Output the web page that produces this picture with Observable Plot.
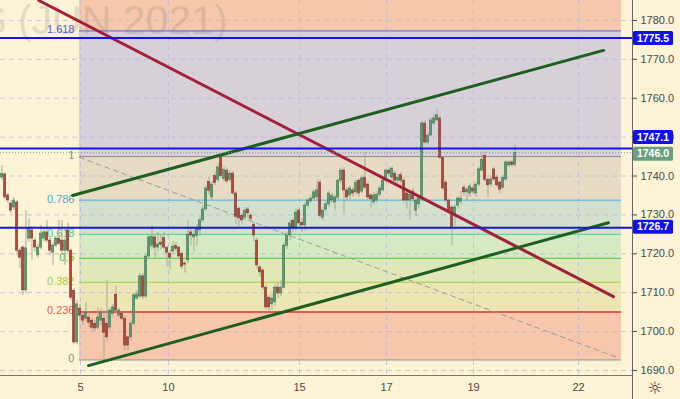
<!DOCTYPE html>
<html><head><meta charset="utf-8">
<script src="https://cdn.jsdelivr.net/npm/d3@7"></script>
<script src="https://cdn.jsdelivr.net/npm/@observablehq/plot@0.6"></script>
<style>
html,body{margin:0;padding:0;background:#fdf3d7;overflow:hidden;}
#chart svg{display:block;}
</style></head><body><div id="chart"></div>
<script>
// candles: [open, high, low, close]
const candleRows = [
[1739.6,1742.7,1738.8,1740.6],[1740.4,1740.9,1734.0,1734.5],[1735.0,1735.5,1732.9,1733.7],[1732.9,1733.7,1730.4,1731.1],
[1731.9,1734.5,1731.1,1733.7],[1733.2,1733.7,1719.5,1720.8],[1720.8,1721.4,1716.2,1719.0],[1721.6,1722.1,1709.3,1710.6],
[1710.6,1731.0,1709.8,1721.4],[1723.9,1729.0,1723.0,1726.5],[1726.0,1727.0,1718.3,1723.9],[1723.4,1724.0,1720.5,1721.6],
[1719.6,1722.5,1718.8,1721.6],[1721.6,1727.3,1721.0,1725.2],[1723.9,1726.5,1723.0,1725.5],[1725.5,1728.6,1722.8,1723.4],
[1723.4,1724.0,1719.5,1720.8],[1720.3,1722.8,1717.0,1722.1],[1722.1,1724.6,1721.6,1723.9],[1723.9,1728.6,1722.0,1722.6],
[1723.4,1728.6,1719.6,1720.8],[1720.8,1724.0,1717.0,1723.4],[1726.0,1727.9,1720.3,1720.8],[1720.8,1721.3,1708.0,1708.7],
[1710.5,1711.0,1696.6,1697.2],[1697.2,1708.0,1696.6,1707.0],[1705.9,1707.0,1703.0,1704.1],[1704.1,1704.6,1701.5,1702.8],
[1703.3,1707.5,1702.5,1704.9],[1703.6,1704.5,1701.0,1702.3],[1702.8,1703.3,1700.0,1701.0],[1702.0,1702.8,1700.0,1700.8],
[1701.0,1706.2,1700.5,1703.6],[1702.8,1705.9,1701.5,1704.9],[1703.3,1705.4,1692.8,1699.7],[1702.0,1713.0,1697.5,1698.5],
[1701.0,1706.0,1700.3,1705.4],[1704.6,1706.9,1703.8,1706.2],[1709.5,1711.6,1705.0,1705.4],[1704.1,1706.0,1703.5,1705.4],
[1704.6,1705.0,1702.8,1703.3],[1703.3,1704.0,1695.1,1696.4],[1698.5,1699.0,1695.0,1696.4],[1698.5,1702.8,1697.5,1702.0],
[1702.0,1710.0,1701.5,1709.3],[1708.5,1710.5,1708.0,1709.5],[1709.0,1715.0,1708.5,1714.2],[1714.2,1715.0,1708.2,1709.0],
[1709.0,1720.0,1708.5,1719.3],[1719.3,1725.0,1718.5,1724.2],[1722.0,1727.2,1721.0,1724.4],[1724.2,1725.0,1719.0,1721.6],
[1721.6,1725.5,1720.5,1722.4],[1722.8,1725.0,1721.0,1722.3],[1724.0,1725.5,1721.0,1721.6],[1721.5,1722.0,1716.5,1720.3],
[1720.0,1720.8,1716.0,1719.0],[1720.6,1723.0,1720.0,1721.8],[1722.0,1722.9,1720.5,1721.3],[1721.6,1722.0,1718.5,1719.3],
[1720.0,1720.5,1716.0,1716.7],[1717.5,1718.0,1715.0,1717.2],[1718.3,1728.6,1717.5,1724.9],[1725.5,1727.0,1722.0,1724.7],
[1724.2,1726.0,1720.5,1724.9],[1724.6,1727.5,1722.0,1726.5],[1726.0,1729.5,1724.5,1728.6],[1728.6,1732.4,1728.0,1731.4],
[1731.4,1737.6,1731.0,1736.8],[1738.5,1739.5,1735.0,1736.2],[1734.5,1738.5,1733.5,1737.8],[1740.0,1741.0,1737.5,1738.2],
[1739.0,1743.0,1738.5,1742.2],[1744.7,1745.0,1739.5,1740.0],[1739.2,1742.5,1738.5,1741.5],[1741.3,1742.0,1738.0,1738.6],
[1739.0,1741.5,1738.5,1740.6],[1740.6,1741.2,1735.0,1735.5],[1735.5,1736.0,1727.5,1729.5],[1731.6,1732.0,1727.0,1729.1],
[1729.8,1730.5,1727.5,1728.6],[1729.3,1731.9,1728.5,1731.1],[1731.4,1732.0,1729.0,1730.4],[1729.8,1730.3,1728.0,1729.0],
[1727.5,1728.0,1723.0,1724.7],[1723.4,1724.0,1716.0,1717.0],[1716.5,1717.0,1714.0,1715.2],[1715.7,1716.2,1710.5,1711.3],
[1711.3,1712.0,1705.5,1706.2],[1708.7,1709.3,1705.3,1706.2],[1707.0,1709.5,1705.5,1708.5],[1707.5,1712.0,1706.5,1711.3],
[1711.3,1712.5,1708.5,1709.8],[1709.8,1713.0,1709.0,1711.3],[1711.3,1722.8,1711.0,1722.1],[1722.0,1725.5,1721.0,1724.7],
[1724.7,1728.5,1723.5,1727.8],[1728.5,1729.0,1725.5,1726.8],[1726.8,1731.5,1725.8,1730.6],[1731.1,1731.6,1727.0,1727.8],
[1728.0,1729.0,1725.5,1727.3],[1727.3,1733.2,1726.0,1732.4],[1732.4,1734.2,1731.5,1733.7],[1733.5,1735.0,1733.0,1734.2],
[1734.2,1736.5,1733.5,1735.8],[1734.5,1739.0,1733.5,1736.3],[1738.3,1739.0,1729.0,1729.8],[1729.3,1732.0,1728.5,1731.1],
[1731.4,1733.5,1730.5,1732.7],[1732.7,1736.2,1732.0,1735.5],[1733.7,1735.5,1733.0,1734.9],[1733.2,1735.2,1731.0,1734.5],
[1734.4,1739.3,1733.5,1738.8],[1738.8,1742.0,1738.0,1741.4],[1741.4,1742.2,1730.4,1736.3],[1736.3,1737.0,1733.5,1734.5],
[1735.0,1737.5,1734.0,1736.8],[1736.3,1737.0,1734.5,1735.5],[1735.8,1739.0,1735.0,1738.3],[1738.8,1739.3,1734.5,1735.5],
[1736.0,1740.0,1735.5,1739.4],[1739.5,1746.0,1736.5,1737.0],[1737.8,1738.5,1733.8,1734.5],[1735.0,1735.5,1731.7,1734.0],
[1733.2,1735.8,1732.5,1735.0],[1733.7,1736.0,1733.0,1735.2],[1735.2,1737.5,1734.5,1736.8],[1736.3,1739.5,1735.8,1738.8],
[1738.8,1742.0,1738.3,1741.4],[1741.4,1742.2,1739.8,1740.6],[1739.6,1742.5,1739.0,1741.9],[1740.6,1741.4,1738.2,1738.8],
[1738.8,1740.5,1738.0,1739.6],[1740.2,1741.0,1738.0,1738.8],[1738.8,1739.5,1733.0,1733.7],[1735.5,1736.0,1731.5,1733.7],
[1733.7,1736.0,1728.6,1735.2],[1736.0,1736.7,1733.0,1734.0],[1731.1,1734.5,1729.5,1733.7],[1732.7,1735.0,1731.5,1734.2],
[1734.0,1754.0,1733.5,1753.5],[1753.5,1754.2,1748.0,1748.6],[1748.6,1751.0,1748.0,1750.4],[1750.4,1755.0,1750.0,1754.3],
[1753.5,1756.0,1753.0,1754.8],[1754.3,1757.4,1754.0,1755.6],[1754.8,1755.5,1744.2,1744.7],[1744.7,1745.2,1736.3,1736.8],
[1738.3,1738.8,1733.0,1733.7],[1733.7,1734.2,1730.4,1731.1],[1731.9,1732.4,1722.1,1726.8],[1729.8,1732.5,1727.0,1731.9],
[1732.4,1734.8,1731.5,1734.2],[1733.4,1736.0,1732.6,1734.2],[1737.0,1737.6,1734.8,1735.8],[1735.8,1737.2,1733.5,1736.5],
[1735.5,1738.0,1734.5,1737.3],[1736.8,1737.5,1735.3,1736.0],[1735.5,1738.4,1734.6,1737.8],[1737.8,1742.3,1737.2,1741.7],
[1741.4,1745.8,1741.0,1744.2],[1745.2,1746.3,1738.5,1739.0],[1739.0,1739.5,1734.6,1737.6],[1737.8,1739.8,1737.2,1739.1],
[1741.7,1742.3,1738.5,1739.1],[1739.6,1740.2,1737.0,1737.6],[1738.3,1738.8,1735.5,1736.5],[1737.0,1740.3,1736.4,1739.6],
[1739.1,1744.0,1738.6,1743.5],[1742.7,1744.0,1742.2,1743.5],[1743.5,1744.0,1742.2,1742.8],[1742.8,1747.9,1742.3,1746.0]
];
const fibLevels = [0, 0.236, 0.382, 0.5, 0.618, 0.786, 1, 1.618, 2.618];
const fibLabels = ["0","0.236","0.382","0.5","0.618","0.786","1","1.618"];
const fibLineColors = ["#8c8c8c","#e25a55","#9fce3a","#3ec83e","#36d2a0","#46a8e0","#8c8c8c","#4f5fd8"];
const fibFillColors = ["#f6c7aa","#ece5b4","#dfe8b6","#d6e9c2","#d3e0cd","#e7dcc3","#d8d0d9","#f6c7aa"];
const fibLow = 1692.7, fibHigh = 1745.0;
const fibStartBar = 26.33, fibEndBar = 207;
const priceTicks = [1690,1700,1710,1720,1730,1740,1750,1760,1770,1780];
const dateTickBars = [26.67, 56, 99.67, 128.67, 157.67, 192.67];
const dateTickLabels = ["5","10","15","17","19","22"];
const hLines = [1775.5, 1747.1, 1726.7];
const lastPrice = 1746.0;
const trendRed = [{x:12.77,y:1785.14},{x:204.33,y:1709.0}];
const trendUpper = [{x:24,y:1735.0},{x:201,y:1772.3}];
const trendLower = [{x:29.33,y:1691.25},{x:202.67,y:1728.0}];
const trendDashed = [{x:26.33,y:1744.8},{x:205.67,y:1693.3}];
const boxLabels = [
  {v:1775.5, text:"1775.5", fill:"#1010ee", dy:0.5},
  {v:1747.1, text:"1747.1", fill:"#1010ee", dy:-11},
  {v:1746.0, text:"1746.0", fill:"#6a9f80", dy:1.5},
  {v:1726.7, text:"1726.7", fill:"#1010ee", dy:-0.5}
];

const yMin = 1688.7, yMax = 1785.14, xMax = 210.67;
const fibPrice = l => fibLow + l * (fibHigh - fibLow);
const bars = candleRows.map(([o,h,l,c], i) => ({i, o, h, l, c, up: c >= o}));
const bands = fibFillColors.map((f, k) => ({y1: fibPrice(fibLevels[k]), y2: fibPrice(fibLevels[k+1]), fill: f}));
const fibLines = fibLabels.map((t, k) => ({y: fibPrice(fibLevels[k]), label: t, color: fibLineColors[k], w: k === 1 ? 2 : 1}));
const dateTicks = dateTickBars.map((b, k) => ({x: b, label: dateTickLabels[k]}));
const font = "'Liberation Sans Narrow','Arial Narrow','Liberation Sans',sans-serif";

const chart = Plot.plot({
  width: 680, height: 399,
  marginLeft: 0, marginRight: 48, marginTop: 0, marginBottom: 24,
  x: {domain: [0, xMax], axis: null},
  y: {domain: [yMin, yMax], axis: null},
  color: {type: "identity"},
  style: {background: "#fdf3d7", fontFamily: font, fontSize: "11px", overflow: "hidden"},
  marks: [
    Plot.rect(bands, {x1: fibStartBar, x2: fibEndBar, y1: "y1", y2: "y2", fill: "fill", clip: true}),
    Plot.text(["GOLD FUTURES (JUN 2021)"], {x: 75.7, y: 1780, text: d => d, textAnchor: "end", fontSize: 41, fill: "#6f6f6f", fillOpacity: 0.2, fontFamily: "'Liberation Sans',sans-serif"}),
    Plot.ruleY(priceTicks, {stroke: "#b8b4d6", strokeOpacity: 0.7, strokeDasharray: "5,4"}),
    Plot.ruleX(dateTickBars, {stroke: "#b8b4d6", strokeOpacity: 0.7, strokeDasharray: "5,4"}),
    Plot.ruleY(fibLines, {x1: fibStartBar, x2: fibEndBar, y: "y", stroke: "color", strokeWidth: "w"}),
    Plot.text(fibLines, {x: fibStartBar, y: "y", text: "label", fill: "color", textAnchor: "end", dx: -5, dy: -1, fontSize: 11}),
    Plot.line(trendDashed, {x: "x", y: "y", stroke: "#9a9a9a", strokeWidth: 1, strokeDasharray: "5,4"}),
    Plot.ruleX(bars, {x: d => d.i + 0.5, y1: "l", y2: "h", stroke: "#a5a898", strokeWidth: 1}),
    Plot.rect(bars, {x1: d => d.i + 0.15, x2: d => d.i + 0.85, y1: "o", y2: "c",
      fill: d => d.up ? "#5a9e72" : "#b9453b", stroke: d => d.up ? "#2f6a45" : "#6d2a23", strokeWidth: 0.5}),
    Plot.line(trendRed, {x: "x", y: "y", stroke: "#a3203a", strokeWidth: 3, clip: true}),
    Plot.line(trendUpper, {x: "x", y: "y", stroke: "#1c5f1f", strokeWidth: 3}),
    Plot.line(trendLower, {x: "x", y: "y", stroke: "#1c5f1f", strokeWidth: 3}),
    Plot.ruleY([lastPrice], {stroke: "#7f9f8f", strokeDasharray: "1,2"}),
    Plot.ruleY(hLines, {stroke: "#1515e8", strokeWidth: 2}),
    Plot.ruleY([yMin], {stroke: "#777"}),
    Plot.axisY(priceTicks, {anchor: "right", tickSize: 4, tickPadding: 4, tickFormat: d => d.toFixed(1), fontSize: 11, color: "#4a4a4a"}),
    Plot.text(dateTicks, {x: "x", y: yMin, text: "label", dy: 12, fill: "#4a4a4a", fontSize: 11})
  ]
});
document.getElementById("chart").appendChild(chart);

const svg = d3.select(chart);
const ys = chart.scale("y");
svg.append("line").attr("x1", 632.5).attr("x2", 632.5).attr("y1", 0).attr("y2", 399).attr("stroke", "#666");
const g = svg.append("g");
boxLabels.forEach(b => {
  const cy = ys.apply(b.v) + b.dy;
  g.append("rect").attr("x", 633).attr("y", cy - 7).attr("width", 40).attr("height", 14).attr("rx", 1.5).attr("fill", b.fill);
  g.append("text").attr("x", 653).attr("y", cy).attr("dy", "0.35em").attr("text-anchor", "middle")
    .attr("fill", "white").attr("font-weight", "bold").attr("font-size", 10.5).attr("font-family", font).text(b.text);
});
svg.append("text").attr("x", 655).attr("y", 388).attr("dy", "0.35em").attr("text-anchor", "middle")
  .attr("font-size", 17).attr("fill", "#333").attr("font-family", "'DejaVu Sans',sans-serif").text("☼");
</script></body></html>
